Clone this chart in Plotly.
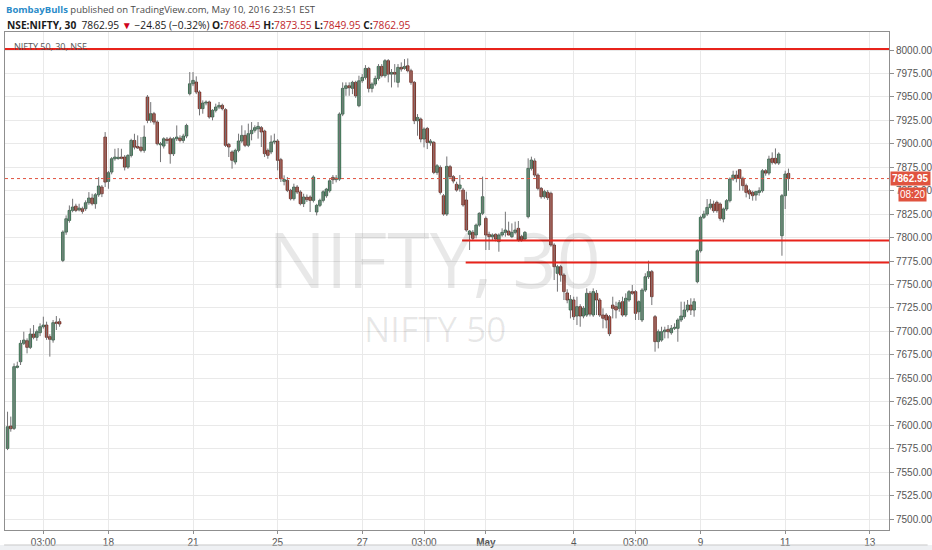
import plotly.graph_objects as go

# NIFTY 50, 30 minute bars, 11 Apr (last bars) .. 11 May 2016 (first bars)
first_bar = -4

opens = [
    7575.3, 7599.1, 7596.6, 7661.7,
    7667.7, 7687.3, 7690.1, 7683.0, 7697.2, 7693.7, 7698.6, 7705.0, 7706.8, 7694.4, 7690.8, 7710.0, 7710.4,
    7775.7, 7805.9, 7818.3, 7829.0, 7833.6, 7829.5, 7830.8, 7830.8, 7837.2, 7842.2, 7836.1, 7845.7, 7853.9,
    7907.2, 7859.9, 7869.9, 7884.1, 7884.3, 7885.8, 7885.9, 7875.2, 7887.6, 7903.6, 7897.2, 7896.5, 7893.0,
    7949.8, 7925.0, 7932.1, 7923.2, 7899.0, 7897.6, 7905.0, 7905.4, 7889.4, 7905.4, 7906.1, 7903.6, 7908.3,
    7953.4, 7964.0, 7965.9, 7955.2, 7937.5, 7943.5, 7944.6, 7928.6, 7935.7, 7939.2, 7941.0, 7936.4, 7899.4,
    7891.3, 7880.6, 7893.0, 7903.0, 7909.0, 7898.4, 7910.8, 7914.4, 7916.0, 7917.2, 7913.6, 7893.0, 7891.3,
    7901.9, 7903.0, 7883.1, 7860.0, 7861.0, 7850.4, 7841.5, 7853.9, 7848.6, 7836.2, 7843.0, 7843.3, 7839.7,
    7827.3, 7834.4, 7839.7, 7844.6, 7850.0, 7864.2, 7861.8, 7862.4, 7931.7, 7959.1, 7961.9, 7959.1, 7965.5,
    7940.6, 7967.2, 7970.8, 7980.4, 7959.1, 7963.7, 7969.7, 7982.5, 7972.6, 7988.6, 7974.3, 7976.1, 7965.5,
    7981.5, 7980.4, 7983.2, 7977.9, 7965.5, 7924.6, 7926.4, 7905.1, 7916.4, 7901.0, 7901.5, 7869.5, 7874.8,
    7844.6, 7825.1, 7875.6, 7865.0, 7856.8, 7852.5, 7850.7, 7840.1, 7803.5, 7805.6, 7802.8, 7813.4, 7825.9,
    7820.5, 7803.5, 7801.0, 7803.5, 7795.7, 7802.8, 7805.6, 7807.0, 7801.0, 7805.6, 7809.9, 7801.0, 7798.5,
    7822.3, 7873.8, 7881.7, 7866.7, 7852.5, 7843.6, 7848.3, 7847.2, 7792.1, 7761.9, 7769.0, 7760.1, 7741.0,
    7722.8, 7733.5, 7716.4, 7726.4, 7716.4, 7717.5, 7740.6, 7717.5, 7740.6, 7733.5, 7717.5, 7717.5, 7715.7,
    7728.1, 7726.4, 7724.6, 7731.7, 7717.5, 7733.5, 7742.4, 7742.4, 7721.0, 7712.2, 7744.1, 7758.3, 7763.7,
    7715.7, 7689.1, 7690.8, 7699.7, 7702.2, 7698.6, 7703.3, 7703.3, 7712.2, 7715.7, 7722.8, 7728.1, 7722.8,
    7753.0, 7786.0, 7821.6, 7825.1, 7832.2, 7835.8, 7837.6, 7835.8, 7819.8, 7830.5, 7839.4, 7862.5, 7866.7,
    7872.4, 7863.2, 7855.4, 7850.0, 7848.2, 7845.4, 7848.2, 7850.0, 7871.3, 7868.8, 7884.5, 7884.5, 7879.5,
    7802.0, 7844.7, 7868.45,
]

highs = [
    7614.4, 7609.2, 7665.9, 7667.7,
    7690.8, 7699.7, 7692.6, 7703.3, 7706.8, 7702.0, 7708.6, 7715.7, 7710.4, 7697.0, 7712.2, 7716.4, 7713.9,
    7807.7, 7823.7, 7834.3, 7841.4, 7836.1, 7836.1, 7833.0, 7839.7, 7848.5, 7846.8, 7847.5, 7864.5, 7856.0,
    7912.5, 7871.0, 7885.9, 7894.7, 7895.4, 7894.7, 7888.0, 7889.0, 7905.4, 7910.7, 7909.0, 7907.2, 7919.6,
    7952.0, 7944.5, 7934.0, 7925.0, 7902.0, 7907.0, 7907.2, 7907.5, 7907.2, 7919.6, 7909.0, 7910.7, 7921.4,
    7976.5, 7976.5, 7971.9, 7957.0, 7946.3, 7946.3, 7946.0, 7937.0, 7942.8, 7944.6, 7942.8, 7938.0, 7901.0,
    7893.0, 7894.8, 7910.8, 7919.7, 7914.4, 7921.5, 7923.2, 7919.7, 7923.2, 7919.0, 7915.0, 7895.0, 7909.0,
    7910.8, 7905.0, 7885.0, 7866.4, 7864.6, 7852.0, 7857.5, 7856.0, 7850.5, 7846.8, 7846.0, 7845.0, 7866.4,
    7836.0, 7841.5, 7850.5, 7853.0, 7862.4, 7866.7, 7866.7, 7933.5, 7965.5, 7965.5, 7965.5, 7967.2, 7967.2,
    7972.6, 7974.3, 7983.9, 7982.0, 7965.5, 7972.6, 7985.0, 7985.0, 7990.3, 7990.3, 7979.7, 7985.0, 7985.0,
    7986.8, 7990.3, 7991.0, 7980.0, 7967.0, 7931.7, 7928.0, 7917.5, 7918.0, 7905.1, 7903.0, 7878.4, 7877.0,
    7846.5, 7886.5, 7877.5, 7866.7, 7859.6, 7866.7, 7853.0, 7849.0, 7808.1, 7808.0, 7815.0, 7827.0, 7865.0,
    7822.5, 7806.3, 7804.5, 7804.5, 7804.5, 7809.9, 7827.6, 7817.0, 7815.2, 7817.0, 7817.7, 7803.0, 7807.0,
    7884.5, 7886.3, 7884.5, 7868.5, 7854.0, 7851.0, 7850.7, 7849.0, 7794.0, 7771.0, 7771.0, 7762.0, 7745.0,
    7738.8, 7737.0, 7737.0, 7729.0, 7727.0, 7745.9, 7743.0, 7745.9, 7744.1, 7735.5, 7724.6, 7719.5, 7717.5,
    7737.0, 7731.7, 7733.5, 7737.0, 7740.6, 7744.1, 7749.5, 7744.0, 7733.0, 7746.0, 7762.0, 7775.4, 7765.5,
    7717.5, 7702.0, 7705.0, 7705.0, 7706.8, 7706.8, 7708.6, 7714.0, 7731.7, 7731.7, 7733.5, 7735.3, 7735.3,
    7787.5, 7823.4, 7828.7, 7841.1, 7841.1, 7839.4, 7839.4, 7837.5, 7832.0, 7841.1, 7864.2, 7871.3, 7871.3,
    7873.1, 7865.0, 7857.5, 7852.0, 7850.0, 7850.0, 7853.6, 7873.1, 7873.1, 7887.3, 7890.9, 7895.1, 7890.9,
    7846.5, 7871.3, 7873.55,
]

lows = [
    7573.5, 7593.1, 7594.9, 7660.6,
    7664.2, 7685.5, 7676.6, 7681.2, 7691.6, 7690.0, 7695.0, 7703.0, 7691.0, 7673.1, 7688.0, 7701.5, 7705.0,
    7773.9, 7803.0, 7816.0, 7827.0, 7827.2, 7828.0, 7825.5, 7828.5, 7835.0, 7834.3, 7830.8, 7843.5, 7843.2,
    7853.9, 7852.1, 7867.5, 7882.0, 7883.0, 7883.5, 7871.6, 7873.4, 7885.5, 7894.0, 7894.5, 7891.0, 7890.5,
    7922.0, 7922.5, 7920.5, 7898.3, 7880.5, 7895.0, 7900.1, 7878.8, 7887.0, 7903.0, 7901.5, 7901.0, 7906.0,
    7951.6, 7961.5, 7953.0, 7930.3, 7932.1, 7941.0, 7926.8, 7925.0, 7933.5, 7937.0, 7935.7, 7896.6, 7885.9,
    7873.5, 7878.0, 7891.0, 7901.0, 7896.5, 7896.5, 7903.7, 7912.0, 7905.5, 7896.6, 7885.9, 7884.1, 7889.0,
    7899.5, 7871.7, 7859.3, 7855.7, 7848.5, 7839.7, 7839.5, 7846.5, 7834.4, 7832.6, 7838.0, 7827.3, 7837.5,
    7823.7, 7832.5, 7837.5, 7842.5, 7848.0, 7857.1, 7858.9, 7860.5, 7929.5, 7951.2, 7951.2, 7953.0, 7949.0,
    7939.0, 7965.0, 7968.5, 7954.8, 7954.8, 7961.5, 7967.5, 7970.8, 7970.5, 7965.5, 7960.1, 7965.5, 7960.1,
    7977.0, 7978.9, 7976.1, 7963.0, 7921.0, 7908.6, 7901.5, 7896.2, 7894.4, 7897.9, 7867.7, 7867.0, 7846.0,
    7823.3, 7823.0, 7863.2, 7857.8, 7849.0, 7849.0, 7833.0, 7806.3, 7786.8, 7797.4, 7799.2, 7811.6, 7824.0,
    7786.8, 7786.8, 7797.4, 7796.0, 7785.0, 7801.0, 7801.0, 7802.5, 7799.5, 7803.5, 7795.7, 7795.7, 7797.0,
    7820.5, 7871.5, 7864.5, 7850.5, 7841.5, 7841.5, 7840.1, 7790.3, 7754.8, 7742.4, 7753.0, 7733.5, 7730.0,
    7713.9, 7712.2, 7706.8, 7705.0, 7714.0, 7715.5, 7716.0, 7715.5, 7717.5, 7715.5, 7703.3, 7703.3, 7695.0,
    7713.9, 7713.9, 7721.0, 7715.7, 7715.5, 7731.5, 7739.0, 7712.2, 7712.2, 7710.0, 7742.0, 7756.0, 7728.1,
    7678.4, 7681.9, 7689.0, 7692.6, 7692.6, 7696.5, 7701.5, 7689.0, 7710.0, 7713.5, 7720.5, 7717.5, 7715.7,
    7751.3, 7784.0, 7819.8, 7823.0, 7830.0, 7826.5, 7826.5, 7818.0, 7816.3, 7828.5, 7837.5, 7860.5, 7858.9,
    7850.0, 7850.0, 7842.9, 7841.1, 7839.4, 7839.4, 7844.7, 7848.0, 7866.0, 7866.5, 7878.0, 7878.0, 7877.5,
    7780.7, 7830.5, 7849.95,
]

closes = [
    7598.4, 7596.3, 7662.4, 7663.1,
    7687.3, 7690.8, 7683.0, 7697.2, 7693.7, 7699.7, 7705.0, 7706.8, 7693.7, 7691.6, 7709.3, 7708.6, 7707.9,
    7805.9, 7820.1, 7829.0, 7832.6, 7829.0, 7831.5, 7828.0, 7837.2, 7842.2, 7836.1, 7845.7, 7855.0, 7846.8,
    7859.2, 7869.2, 7884.1, 7885.9, 7885.6, 7884.5, 7875.2, 7887.6, 7903.6, 7896.5, 7895.5, 7893.0, 7907.2,
    7925.0, 7932.1, 7923.2, 7900.1, 7900.1, 7905.4, 7903.5, 7889.4, 7905.4, 7907.2, 7903.6, 7908.3, 7919.6,
    7964.0, 7967.6, 7955.2, 7937.5, 7943.5, 7944.6, 7928.6, 7935.7, 7939.2, 7941.0, 7937.5, 7898.4, 7896.6,
    7882.4, 7893.0, 7903.0, 7909.0, 7898.4, 7910.8, 7914.4, 7917.2, 7918.6, 7912.6, 7889.5, 7887.7, 7901.9,
    7903.0, 7882.4, 7862.8, 7862.0, 7850.4, 7841.5, 7853.9, 7848.6, 7836.2, 7843.3, 7840.5, 7839.7, 7864.6,
    7834.4, 7839.7, 7848.9, 7851.7, 7860.6, 7861.7, 7863.5, 7931.7, 7959.1, 7961.9, 7959.8, 7965.5, 7951.2,
    7967.2, 7970.8, 7980.4, 7959.1, 7963.7, 7969.7, 7982.5, 7972.6, 7988.6, 7974.3, 7976.1, 7974.3, 7981.5,
    7979.7, 7982.5, 7977.9, 7965.5, 7924.6, 7928.1, 7905.1, 7915.7, 7901.5, 7902.9, 7869.5, 7876.6, 7848.2,
    7825.1, 7876.0, 7865.0, 7860.3, 7850.7, 7856.1, 7834.8, 7808.1, 7807.0, 7799.2, 7813.4, 7825.9, 7843.6,
    7802.8, 7801.0, 7802.8, 7798.5, 7802.8, 7805.6, 7808.1, 7802.8, 7805.6, 7808.1, 7797.4, 7797.4, 7805.6,
    7873.8, 7882.7, 7866.7, 7852.5, 7843.6, 7849.0, 7842.6, 7792.1, 7769.0, 7769.0, 7760.1, 7742.4, 7733.5,
    7734.2, 7715.7, 7726.4, 7716.4, 7724.6, 7740.6, 7718.5, 7742.4, 7733.5, 7717.5, 7714.0, 7712.2, 7697.5,
    7724.6, 7722.8, 7730.6, 7717.5, 7735.3, 7742.4, 7740.6, 7719.3, 7731.7, 7744.1, 7758.3, 7763.7, 7737.0,
    7689.1, 7699.7, 7699.7, 7701.5, 7699.7, 7703.3, 7704.4, 7712.2, 7716.4, 7722.8, 7728.1, 7722.8, 7731.7,
    7786.0, 7821.6, 7825.1, 7832.2, 7835.8, 7828.7, 7828.7, 7820.5, 7830.5, 7839.4, 7862.5, 7866.7, 7863.2,
    7863.2, 7855.4, 7848.2, 7846.5, 7844.7, 7849.0, 7850.0, 7871.3, 7868.8, 7883.8, 7880.2, 7879.5, 7889.1,
    7844.7, 7867.8, 7862.95,
]

# x axis labels, placed on bar numbers
tick_bars = [7, 27, 53, 79, 105, 124, 143, 170, 189, 209, 235, 261]
tick_labels = ["03:00", "18", "21", "25", "27", "03:00", "<b>May</b>", "4", "03:00", "9", "11", "13"]

# horizontal lines drawn by the author: price and first bar
level_prices = [8001, 7797, 7773.5]
level_start_bars = [-4.78, 135.7, 136.8]

last_price = 7862.95
bar_countdown = "08:20"

up_fill, up_line = "#6ba583", "#225437"
down_fill, down_line = "#d75442", "#5b1a13"

bars = list(range(first_bar, first_bar + len(opens)))
x_range = [-4.78, 266.9]

# wicks
wick_x, wick_y = [], []
for b, h, l in zip(bars, highs, lows):
    wick_x += [b, b, None]
    wick_y += [l, h, None]

body_base = [min(o, c) for o, c in zip(opens, closes)]
body_size = [max(abs(c - o), 0.6) for o, c in zip(opens, closes)]
body_fill = [up_fill if c >= o else down_fill for o, c in zip(opens, closes)]
body_line = [up_line if c >= o else down_line for o, c in zip(opens, closes)]

fig = go.Figure()

fig.add_trace(go.Scatter(
    x=wick_x, y=wick_y, mode="lines",
    line=dict(color="#737375", width=1),
    hoverinfo="skip", showlegend=False
))

fig.add_trace(go.Bar(
    x=bars, y=body_size, base=body_base, width=0.78,
    marker=dict(color=body_fill, line=dict(color=body_line, width=0.8)),
    showlegend=False
))

shapes = []
for p, s in zip(level_prices, level_start_bars):
    shapes.append(dict(type="line", xref="x", yref="y", x0=s, x1=x_range[1], y0=p, y1=p,
                       line=dict(color="#e8231b", width=2)))
shapes.append(dict(type="line", xref="paper", yref="y", x0=0, x1=1, y0=last_price, y1=last_price,
                   line=dict(color="#e0533f", width=1, dash="dot")))
# grey strip under the chart card
shapes.append(dict(type="rect", xref="paper", yref="paper", x0=-0.02, x1=1.06, y0=-0.05, y1=-0.0301,
                   fillcolor="#eef0f3", line=dict(width=0), layer="below"))
shapes.append(dict(type="line", xref="paper", yref="paper", x0=-0.001, x1=1.0437, y0=-0.0301, y1=-0.0301,
                   line=dict(color="#c9c9c9", width=1)))

red = "#c0282d"


def red_value(v):
    return "<span style='color:" + red + "'>" + v + "</span>"


line2 = ("<b>NSE:NIFTY, 30</b>  7862.95 <span style='color:#d0021b'>▼</span> −24.85 (−0.32%) "
         + "<b>O:</b>" + red_value("7868.45") + " <b>H:</b>" + red_value("7873.55")
         + " <b>L:</b>" + red_value("7849.95") + " <b>C:</b>" + red_value("7862.95"))

annotations = [
    dict(text="<b><span style='color:#2a8bc9'>BombayBulls</span></b> published on TradingView.com, May 10, 2016 23:51 EST",
         xref="paper", yref="paper", x=-0.001, y=1.046, xanchor="left", yanchor="middle",
         showarrow=False, font=dict(family="Open Sans, Liberation Sans", size=9.5, color="#4a4a4a")),
    dict(text=line2, xref="paper", yref="paper", x=0.0, y=1.014, xanchor="left", yanchor="middle",
         showarrow=False, font=dict(family="Open Sans, Liberation Sans", size=10.2, color="#1a1a1a")),
    dict(text="NIFTY 50, 30, NSE", xref="paper", yref="paper", x=0.008, y=0.971,
         xanchor="left", yanchor="middle", showarrow=False,
         font=dict(family="Open Sans, Liberation Sans", size=9, color="#555555")),
    dict(text="NIFTY, 30", xref="paper", yref="paper", x=0.486, y=0.546,
         xanchor="center", yanchor="middle", showarrow=False,
         font=dict(family="Open Sans", size=77, color="rgba(0,0,0,0.09)")),
    dict(text="NIFTY 50", xref="paper", yref="paper", x=0.486, y=0.405,
         xanchor="center", yanchor="middle", showarrow=False,
         font=dict(family="Open Sans", size=35, color="rgba(0,0,0,0.09)")),
    dict(text="<b>%.2f</b>" % last_price, xref="paper", yref="y", x=1.001, y=last_price,
         xanchor="left", yanchor="middle", showarrow=False, bgcolor="#e0533f", borderpad=1,
         font=dict(family="Liberation Sans", size=10, color="white")),
    dict(text=bar_countdown, xref="paper", yref="y", x=1.0426, y=7846.5,
         xanchor="right", yanchor="middle", showarrow=False, bgcolor="#e0533f", borderpad=1,
         font=dict(family="Liberation Sans", size=10, color="white")),
]

fig.update_layout(
    width=932, height=550,
    margin=dict(l=5, r=43, t=32, b=20),
    paper_bgcolor="white", plot_bgcolor="white",
    showlegend=False,
    shapes=shapes,
    annotations=annotations,
    xaxis=dict(
        range=x_range, tickmode="array", tickvals=tick_bars, ticktext=tick_labels,
        showgrid=True, gridcolor="#e9e9e9", zeroline=False, automargin=False,
        showline=True, linecolor="#8f8f8f", mirror=True,
        ticks="outside", ticklen=3, tickcolor="#8f8f8f",
        tickfont=dict(family="Liberation Sans", size=10, color="#555555"),
    ),
    yaxis=dict(
        range=[7488.3, 8019.2], side="right", dtick=25, tick0=7500, tickformat=".2f",
        showgrid=True, gridcolor="#e9e9e9", zeroline=False, automargin=False,
        showline=True, linecolor="#8f8f8f", mirror=True,
        ticks="outside", ticklen=4, tickcolor="#8f8f8f",
        tickfont=dict(family="Liberation Sans", size=10, color="#555555"),
    ),
)

fig.write_html("out.html", config={"displayModeBar": False},
               post_script="document.body.style.margin = '0';")
